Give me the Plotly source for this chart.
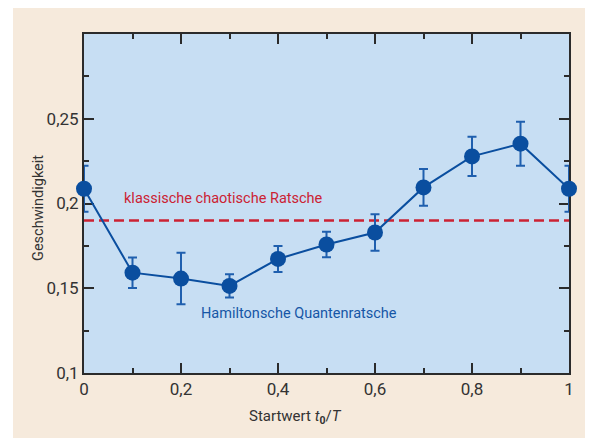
import plotly.graph_objects as go

# Data
t0_over_T = [0.0, 0.1, 0.2, 0.3, 0.4, 0.5, 0.6, 0.7, 0.8, 0.9, 1.0]
speed = [0.2087, 0.1592, 0.1557, 0.1514, 0.1673, 0.1758, 0.1829, 0.2095, 0.2278, 0.2353, 0.2087]
speed_err = [0.0135, 0.0090, 0.0152, 0.0068, 0.0077, 0.0075, 0.0108, 0.0108, 0.0116, 0.0130, 0.0135]
classical_level = 0.19

x_tickvals = [0, 0.2, 0.4, 0.6, 0.8, 1.0]
x_ticktext = ["0", "0,2", "0,4", "0,6", "0,8", "1"]
y_tickvals = [0.1, 0.15, 0.2, 0.25]
y_ticktext = ["0,1", "0,15", "0,2", "0,25"]

label_classical = "klassische chaotische Ratsche"
label_quantum = "Hamiltonsche Quantenratsche"
x_title = "Startwert <i>t</i><sub><b>0</b></sub>/<i>T</i>"
y_title = "Geschwindigkeit"

FONT = "Roboto, Lato, sans-serif"
BLUE = "#0a4e9f"
ERR_BLUE = "#1f5fae"
RED = "#cc2233"
PLOT_BG = "#c7def3"
BEIGE = "#f6eadc"
AXIS = "#2b2b2b"

# page body has an 8px offset; window coords = figure coords + 8
OFF = 8
W, H = 593 - OFF, 439 - OFF
L, T = 84 - OFF, 34 - OFF
R, B = 593 - 569, 439 - 373
pw, ph = W - L - R, H - T - B


def px_x(wx):
    return (wx - OFF - L) / pw


def px_y(wy):
    return (T + ph - (wy - OFF)) / ph


fig = go.Figure()

fig.add_trace(go.Scatter(
    x=[0, 1], y=[classical_level, classical_level],
    mode="lines",
    line=dict(color=RED, width=2.5, dash="10px,5px"),
    hoverinfo="skip", showlegend=False,
))

fig.add_trace(go.Scatter(
    x=t0_over_T, y=speed,
    mode="lines+markers",
    line=dict(color=BLUE, width=2),
    marker=dict(color=BLUE, size=16),
    error_y=dict(type="data", array=speed_err, color=ERR_BLUE, thickness=2, width=4.5),
    cliponaxis=False,
    showlegend=False,
))

axis_common = dict(
    showline=True, linecolor=AXIS, linewidth=2, mirror="ticks",
    ticks="inside", ticklen=10, tickwidth=1.5, tickcolor=AXIS,
    showgrid=False, zeroline=False, layer="below traces",
    tickfont=dict(family=FONT, size=17, color="#333333"),
)

fig.update_xaxes(
    range=[0, 1], tickvals=x_tickvals, ticktext=x_ticktext,
    minor=dict(ticks="inside", ticklen=5, tickwidth=1.5, tickcolor=AXIS, dtick=0.1, tick0=0),
    **axis_common,
)
fig.update_yaxes(
    range=[0.1, 0.3], tickvals=y_tickvals, ticktext=y_ticktext,
    minor=dict(ticks="inside", ticklen=5, tickwidth=1.5, tickcolor=AXIS, dtick=0.025, tick0=0.1),
    **axis_common,
)

shapes = [
    dict(type="rect", xref="paper", yref="paper", layer="below",
         x0=px_x(13), x1=px_x(588), y0=px_y(438), y1=px_y(0),
         fillcolor=BEIGE, line=dict(width=0)),
    dict(type="rect", xref="paper", yref="paper", layer="below",
         x0=0, x1=1, y0=0, y1=1, fillcolor=PLOT_BG, line=dict(width=0)),
]


def ann(x, y, text, color, size, angle=0):
    return dict(x=px_x(x), y=px_y(y), xref="paper", yref="paper", text=text,
                xanchor="center", yanchor="middle", showarrow=False, textangle=angle,
                font=dict(family=FONT, size=size, color=color))


annotations = [
    ann(223, 198, label_classical, RED, 14.5),
    ann(299, 313, label_quantum, "#1656a6", 14.5),
    ann(295, 417, x_title, "#333333", 15),
    ann(38, 208, y_title, "#333333", 14.5, angle=-90),
]

fig.update_layout(
    width=W, height=H,
    margin=dict(l=L, r=R, t=T, b=B),
    paper_bgcolor="white", plot_bgcolor="rgba(0,0,0,0)",
    shapes=shapes, annotations=annotations,
    showlegend=False,
)

fig.write_html("out.html")
